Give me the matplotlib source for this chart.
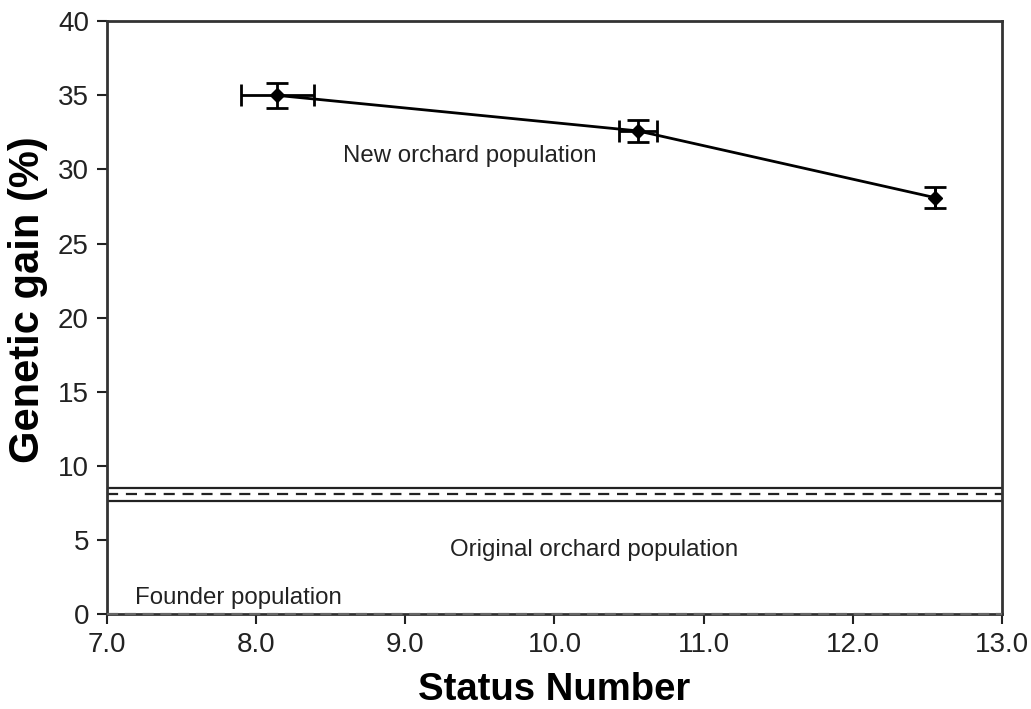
import matplotlib
matplotlib.use("Agg")
import matplotlib.pyplot as plt

plt.rcParams['font.family'] = ['Liberation Sans', 'DejaVu Sans']

# New orchard population: status number vs genetic gain, with errors
status_number = [8.14, 10.56, 12.55]
status_err = [0.245, 0.13, 0.0]
genetic_gain = [35.0, 32.6, 28.1]
gain_err = [0.82, 0.77, 0.72]

# Original orchard population: mean gain with upper/lower bounds
orig_mean = 8.1
orig_upper = 8.5
orig_lower = 7.6

# Founder population baseline
founder_gain = 0.0

x_ticks = [7.0, 8.0, 9.0, 10.0, 11.0, 12.0, 13.0]
y_ticks = [0, 5, 10, 15, 20, 25, 30, 35, 40]

fig = plt.figure(figsize=(10.31, 7.09), dpi=100)
ax = fig.add_axes([0.1038, 0.134, 0.868, 0.836])

ax.errorbar(status_number, genetic_gain, xerr=status_err, yerr=gain_err,
            color='black', lw=2, marker='D', markersize=7,
            elinewidth=2, capsize=8, capthick=2, zorder=4)

ax.axhline(orig_upper, color='#222222', lw=1.6)
ax.axhline(orig_mean, color='#222222', lw=1.6, ls=(0, (5, 3.5)))
ax.axhline(orig_lower, color='#222222', lw=1.6)
ax.axhline(founder_gain, color='#666666', lw=1.6, ls=(0, (5, 3)),
           zorder=5, clip_on=False)

ax.text(8.58, 30.9, 'New orchard population', fontsize=17.3,
        color='#222222', va='center', ha='left')
ax.text(9.30, 4.3, 'Original orchard population', fontsize=17.3,
        color='#222222', va='center', ha='left')
ax.text(7.19, 1.05, 'Founder population', fontsize=17.3,
        color='#222222', va='center', ha='left')

ax.set_xlim(7.0, 13.0)
ax.set_ylim(0, 40)
ax.set_xticks(x_ticks)
ax.set_xticklabels([f'{v:.1f}' for v in x_ticks])
ax.set_yticks(y_ticks)
ax.tick_params(axis='both', direction='out', length=7, width=1.5,
               labelsize=20, colors='#222222', pad=6)

for s in ax.spines.values():
    s.set_linewidth(2)
    s.set_color('#333333')

ax.set_xlabel('Status Number', fontsize=27.5, fontweight='bold', labelpad=10)
ax.set_ylabel('Genetic gain (%)', fontsize=30, fontweight='bold')
ax.yaxis.set_label_coords(-0.066, 0.53)

fig.savefig('out.png', dpi=100)
